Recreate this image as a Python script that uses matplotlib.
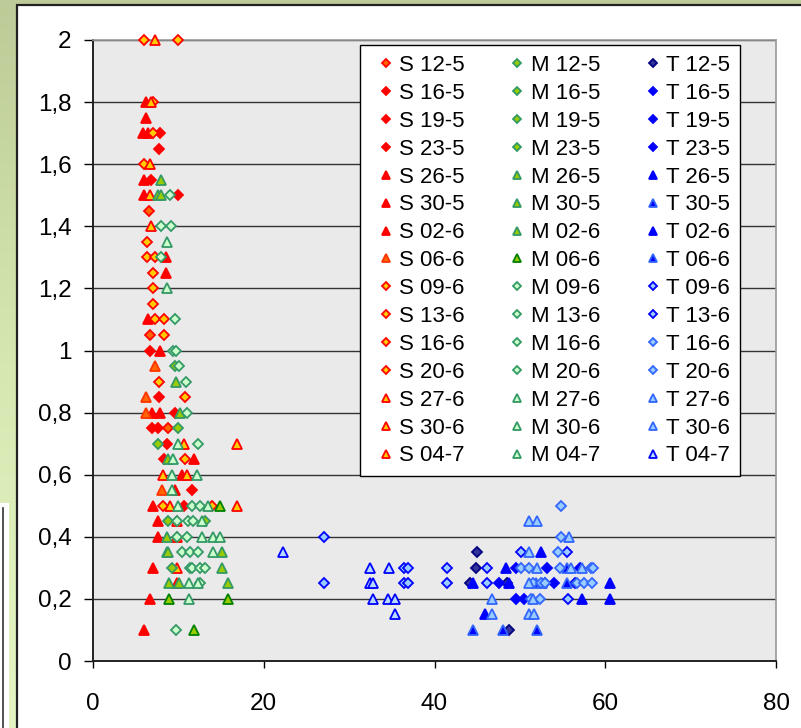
import matplotlib.pyplot as plt
import numpy as np
from matplotlib.patches import Rectangle
from matplotlib.colors import LinearSegmentedColormap
from matplotlib.ticker import FuncFormatter

plt.rcParams['font.family'] = ['Liberation Sans', 'DejaVu Sans']

# ---- data ----
S_labels = ['S 12-5', 'S 16-5', 'S 19-5', 'S 23-5', 'S 26-5', 'S 30-5', 'S 02-6',
            'S 06-6', 'S 09-6', 'S 13-6', 'S 16-6', 'S 20-6', 'S 27-6', 'S 30-6', 'S 04-7']
S_x = [[6.6, 6.7, 8.8],
       [7.8, 10.0, 6.7, 8.3],
       [7.7, 7.7, 9.6, 6.9],
       [6.8, 7.6, 10.7, 11.6, 8.7],
       [6.2, 6.2, 5.9, 6.0, 8.5, 10.4],
       [6.0, 8.5, 6.4, 7.8, 6.9, 7.8, 9.6],
       [11.8, 7.0, 7.6, 7.6, 7.0, 9.8, 6.7, 6.0, 6.5],
       [6.2, 6.2, 7.3, 8.1],
       [6.0, 7.0, 6.0],
       [10.0, 7.0, 6.3, 6.3],
       [7.3, 7.0, 7.0, 7.0, 7.3, 8.2, 13.9],
       [8.3, 8.3, 7.7, 10.8, 10.8],
       [7.3, 6.8, 6.7, 6.7],
       [6.8, 8.2, 10.7, 16.9, 9.0],
       [16.9, 9.8, 9.8, 9.8, 11.0]]
S_y = [[1.45, 1.05, 0.75],
       [1.7, 1.5, 1.0, 0.65],
       [1.65, 0.85, 0.8, 0.75],
       [1.55, 0.75, 0.5, 0.55, 0.7],
       [1.8, 1.75, 1.7, 1.55, 1.3, 0.6],
       [1.5, 1.25, 1.1, 1.0, 0.8, 0.8, 0.55],
       [0.65, 0.5, 0.45, 0.4, 0.3, 0.25, 0.2, 0.1, 1.7],
       [0.85, 0.8, 0.95, 0.55],
       [2.0, 1.7, 1.6],
       [2.0, 1.8, 1.35, 1.3],
       [1.3, 1.25, 1.2, 1.15, 1.1, 0.5, 0.5],
       [1.1, 1.05, 0.9, 0.85, 0.65],
       [2.0, 1.8, 1.6, 1.5],
       [1.4, 0.6, 0.7, 0.7, 0.5],
       [0.5, 0.45, 0.4, 0.3, 0.6]]

M_labels = ['M 12-5', 'M 16-5', 'M 19-5', 'M 23-5', 'M 26-5', 'M 30-5', 'M 02-6',
            'M 06-6', 'M 09-6', 'M 13-6', 'M 16-6', 'M 20-6', 'M 27-6', 'M 30-6', 'M 04-7']
M_x = [[7.6],
       [10.0],
       [9.6, 8.8],
       [9.3, 13.1],
       [8.0, 7.6, 8.0, 8.8],
       [9.7, 10.2, 8.7, 8.7, 15.1],
       [8.8, 15.1, 8.9, 10.1, 15.8],
       [8.9, 15.8, 11.8, 14.9],
       [9.0, 8.0, 9.1, 8.0],
       [9.6, 9.4, 9.7, 10.1, 10.9],
       [11.0, 12.3, 11.6, 12.5, 9.8, 11.1, 11.7],
       [10.4, 11.4, 12.3, 9.8, 11.0, 11.4, 11.6, 12.5, 13.1, 9.7, 12.5],
       [8.7, 8.7, 10.0, 9.3, 12.2, 9.3],
       [9.4, 10.0, 13.5, 12.8, 14.1],
       [12.8, 14.1, 14.9, 11.2, 11.2, 12.3]]
M_y = [[0.7],
       [0.75],
       [0.95, 0.45],
       [0.3, 0.45],
       [1.55, 1.5, 1.5, 0.65],
       [0.9, 0.8, 0.4, 0.35, 0.35],
       [0.35, 0.3, 0.25, 0.25, 0.25],
       [0.2, 0.2, 0.1, 0.5],
       [1.5, 1.4, 1.4, 1.3],
       [1.1, 1.0, 1.0, 0.95, 0.9],
       [0.8, 0.7, 0.5, 0.5, 0.45, 0.45, 0.45],
       [0.35, 0.35, 0.35, 0.4, 0.4, 0.3, 0.3, 0.3, 0.3, 0.1, 0.25],
       [1.35, 1.2, 0.7, 0.6, 0.6, 0.55],
       [0.65, 0.5, 0.5, 0.45, 0.35],
       [0.4, 0.4, 0.4, 0.2, 0.25, 0.25]]

T_labels = ['T 12-5', 'T 16-5', 'T 19-5', 'T 23-5', 'T 26-5', 'T 30-5', 'T 02-6',
            'T 06-6', 'T 09-6', 'T 13-6', 'T 16-6', 'T 20-6', 'T 27-6', 'T 30-6', 'T 04-7']
T_x = [[45.0, 44.9, 44.2, 48.5, 48.7],
       [49.5, 50.5, 53.2],
       [53.0, 56.5, 47.5],
       [54.0, 57.0, 49.5],
       [52.5, 48.4, 48.7, 44.5],
       [51.9, 52.6, 55.5],
       [60.6, 57.3, 60.6, 45.9],
       [44.5, 48.0, 52.0, 55.5],
       [27.1, 27.1, 36.4, 36.9, 41.5, 41.5],
       [36.4, 36.9, 46.1, 46.1, 55.6, 50.1, 55.5],
       [54.8, 54.8, 54.5, 50.1, 51.1, 54.7, 58.3, 58.6],
       [51.5, 52.5, 53.0, 56.7, 57.5, 58.5, 51.3, 52.3],
       [51.1, 52.0, 55.8, 51.1, 52.0, 56.0],
       [57.3, 51.1, 46.7, 51.5, 46.7, 51.1, 51.6],
       [22.3, 32.4, 34.7, 32.4, 32.8, 32.8, 34.6, 35.4, 35.4]]
T_y = [[0.35, 0.3, 0.25, 0.25, 0.1],
       [0.2, 0.2, 0.3],
       [0.25, 0.25, 0.25],
       [0.25, 0.3, 0.3],
       [0.35, 0.3, 0.25, 0.25],
       [0.25, 0.25, 0.25],
       [0.25, 0.2, 0.2, 0.15],
       [0.1, 0.1, 0.1, 0.3],
       [0.4, 0.25, 0.3, 0.3, 0.3, 0.25],
       [0.25, 0.25, 0.3, 0.25, 0.2, 0.35, 0.35],
       [0.5, 0.4, 0.35, 0.3, 0.3, 0.3, 0.3, 0.3],
       [0.25, 0.25, 0.25, 0.25, 0.25, 0.25, 0.2, 0.2],
       [0.45, 0.45, 0.4, 0.35, 0.3, 0.3],
       [0.3, 0.25, 0.2, 0.2, 0.15, 0.15, 0.15],
       [0.35, 0.3, 0.3, 0.25, 0.25, 0.2, 0.2, 0.2, 0.15]]

# ---- styles: (marker, face, edge) per series ----
S_style = [('D', '#FF6600', '#FF0000')] + [('D', '#FF0000', '#FF0000')] * 3 + \
          [('^', '#FF0000', '#FF0000')] * 3 + [('^', '#FF6600', '#FF3300')] + \
          [('D', '#FFCC00', '#FF0000')] * 4 + [('^', '#FFCC00', '#FF0000')] * 3
M_style = [('D', '#99CC00', '#339966')] * 4 + [('^', '#99CC00', '#339966')] * 3 + \
          [('^', '#99CC00', '#008000')] + [('D', '#CCFFCC', '#339966')] * 4 + \
          [('^', '#CCFFCC', '#339966')] * 3
T_style = [('D', '#333399', '#000080')] + [('D', '#0000FF', '#0000FF')] * 3 + \
          [('^', '#0000FF', '#0000FF'), ('^', '#0000FF', '#3366FF'),
           ('^', '#0000FF', '#0000FF'), ('^', '#0000FF', '#3366FF')] + \
          [('D', '#99CCFF', '#0000FF')] * 2 + [('D', '#99CCFF', '#3366FF')] * 2 + \
          [('^', '#99CCFF', '#3366FF')] * 2 + [('^', '#B8DCFF', '#0000FF')]

W, H = 801, 728
fig = plt.figure(figsize=(W / 100, H / 100), dpi=100)

# green gradient background with white chart area
bg = fig.add_axes([0, 0, 1, 1], zorder=-10)
grad = np.linspace(0, 1, 256).reshape(-1, 1)
cmap = LinearSegmentedColormap.from_list('g', ['#BCCB97', '#D6E8B2', '#E4F5C3'])
bg.imshow(grad, aspect='auto', cmap=cmap, extent=[0, 1, 0, 1])
bg.add_patch(Rectangle((17 / W, -0.1), 1.2, 1.1 - 5 / H, transform=bg.transAxes,
                       fc='white', ec='#222222', lw=1.6))
bg.add_patch(Rectangle((-0.01, -0.1), 0.01 + 9 / W, 0.1 + 1 - 503 / H,
                       transform=bg.transAxes, fc='white', ec='none'))
bg.plot([3 / W, 3 / W], [0, 1 - 508 / H], color='#333333', lw=1.2,
        transform=bg.transAxes)
bg.set_xlim(0, 1)
bg.set_ylim(0, 1)
bg.axis('off')

ax = fig.add_axes([93 / W, 1 - 661 / H, (776 - 93) / W, (661 - 40) / H])
ax.set_facecolor('#EAEAEA')
ax.set_xlim(0, 80)
ax.set_ylim(0, 2)

for labels, xs, ys, styles in [(S_labels, S_x, S_y, S_style),
                               (M_labels, M_x, M_y, M_style),
                               (T_labels, T_x, T_y, T_style)]:
    for lab, x, y, (mk, fc, ec) in zip(labels, xs, ys, styles):
        ms = 5.2 if mk == 'D' else 7.6
        ax.plot(x, y, ls='none', marker=mk, ms=ms, mfc=fc, mec=ec, mew=1.3,
                label=lab, clip_on=False, zorder=3)

ax.set_yticks(np.arange(0, 2.01, 0.2))
ax.set_xticks([0, 20, 40, 60, 80])
ax.yaxis.set_major_formatter(FuncFormatter(lambda v, p: ('%g' % round(v, 1)).replace('.', ',')))
ax.tick_params(axis='y', length=6.5, width=1, direction='out', pad=9, labelsize=17.5)
ax.tick_params(axis='x', length=5, width=1, direction='out', pad=18, labelsize=17.5)
ax.grid(axis='y', color='#333333', lw=1)
ax.set_axisbelow(True)
for side in ['left', 'bottom']:
    ax.spines[side].set_color('#222222')
    ax.spines[side].set_linewidth(1.4)
for side in ['top', 'right']:
    ax.spines[side].set_color('#999999')
    ax.spines[side].set_linewidth(1.2)

leg = ax.legend(ncol=3, loc='upper left', bbox_to_anchor=(360 / W, 1 - 45 / H),
                bbox_transform=fig.transFigure, borderaxespad=0, fontsize=16,
                frameon=True, fancybox=False, edgecolor='black', framealpha=1,
                handlelength=1.4, handletextpad=-0.1, labelspacing=0.31,
                columnspacing=1.68, markerscale=0.8, borderpad=0.45)
leg.get_frame().set_linewidth(1.0)
leg.set_zorder(5)

fig.savefig('out.png', dpi=100)
